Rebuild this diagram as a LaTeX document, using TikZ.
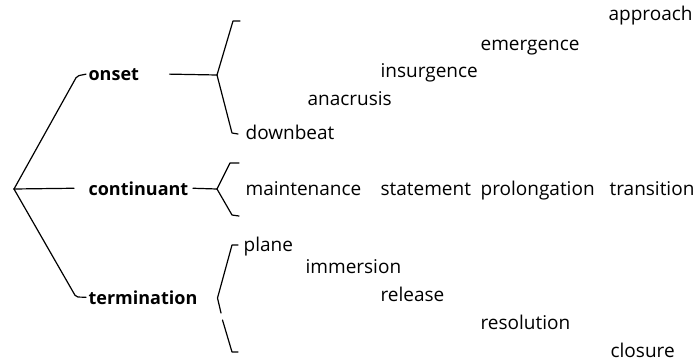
\documentclass[tikz,border=0pt]{standalone}
\usepackage{fontspec}
\setmainfont{Open Sans}
\begin{document}
\begin{tikzpicture}[x=1pt,y=-1pt,line width=1.2pt,line cap=round,line join=round,
  lbl/.style={anchor=base west,inner sep=0pt,font=\fontsize{19}{22}\selectfont},
  hd/.style={anchor=base west,inner sep=0pt,font=\fontsize{18}{21}\selectfont\bfseries},
  conn/.style={draw=black,line width=1.2pt}]
\useasboundingbox (0,0) rectangle (695,361);
% top-level labels
\coordinate (root) at (14,189);
\node[hd] (onset) at (88,80) {onset};
\node[hd] (cont) at (88,195) {continuant};
\node[hd] (term) at (88,304) {termination};
% leaves
\node[lbl] (approach) at (608,21) {approach};
\node[lbl] (emergence) at (480,50) {emergence};
\node[lbl] (insurgence) at (380,77) {insurgence};
\node[lbl] (anacrusis) at (307,105) {anacrusis};
\node[lbl] (downbeat) at (245,139) {downbeat};
\node[lbl] (maint) at (245,195) {maintenance};
\node[lbl] (statement) at (380,195) {statement};
\node[lbl] (prolong) at (480,195) {prolongation};
\node[lbl] (transition) at (609,195) {transition};
\node[lbl] (plane) at (243,251) {plane};
\node[lbl] (immersion) at (305,273) {immersion};
\node[lbl] (release) at (380,301) {release};
\node[lbl] (resolution) at (480,329) {resolution};
\node[lbl] (closure) at (610,357) {closure};
% tree from root
\coordinate (ok) at (77,76);
\coordinate (tk) at (76,297);
\draw[conn,rounded corners=2pt] (root) -- (ok) -- ([xshift=-2pt]onset.west);
\draw[conn] (root) -- ([xshift=-14pt]cont.west);
\draw[conn,rounded corners=2pt] (root) -- (tk) -- ([xshift=-2pt]term.west);
% onset bracket
\coordinate (ob) at (217,75);
\draw[conn] ([xshift=30pt]onset.east) -- (ob);
\draw[conn] (ob) -- (233,21) -- (240,21);
\draw[conn] (ob) -- (232,133) -- (238,134);
% continuant bracket
\coordinate (cb) at (217,189);
\draw[conn] ([xshift=4pt]cont.east) -- (cb);
\draw[conn] (cb) -- (230,163) -- (239,163);
\draw[conn] (cb) -- (232,215) -- (239,216);
% termination bracket
\coordinate (tb) at (217.5,298);
\draw[conn] (238,245) -- (232,245) -- (tb) -- (221,313);
\draw[conn] (222.5,320) -- (232,352) -- (238,352);
\end{tikzpicture}
\end{document}
